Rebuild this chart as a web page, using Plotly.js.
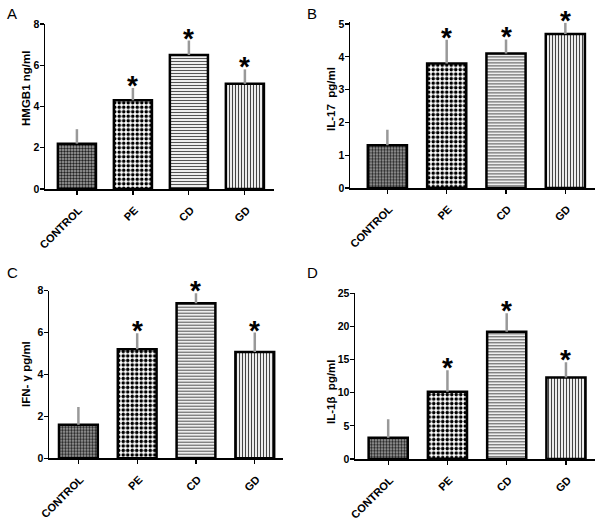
<!DOCTYPE html>
<html>
<head>
<meta charset="utf-8">
<script src="https://cdn.plot.ly/plotly-3.0.1.min.js"></script>
<style>html,body{margin:0;padding:0;background:#fff;}#chart{width:600px;height:523px;}</style>
</head>
<body>
<div id="chart"></div>
<script>
// ---- data ----
var categories = ['CONTROL', 'PE', 'CD', 'GD'];
var hmgb1 = [2.2, 4.3, 6.5, 5.1];
var hmgb1Err = [0.7, 0.6, 0.7, 0.7];
var il17 = [1.3, 3.8, 4.1, 4.7];
var il17Err = [0.48, 0.72, 0.43, 0.34];
var ifng = [1.6, 5.2, 7.4, 5.07];
var ifngErr = [0.85, 0.77, 0.48, 0.93];
var il1b = [3.2, 10.15, 19.2, 12.3];
var il1bErr = [2.8, 3.25, 2.8, 2.3];
var starText = ['', '*', '*', '*'];
var panelTitles = ['HMGB1 ng/ml', 'IL-17  pg/ml', 'IFN- γ pg/ml', 'IL-1β  pg/ml'];
var panelLetters = ['A', 'B', 'C', 'D'];
var yRanges = [[0, 8], [0, 5.05], [0, 8], [0, 25]];
var yDtick = [2, 1, 2, 5];

// ---- styling ----
var FONT = 'Liberation Sans, Arial, sans-serif';
var pattern = {
  shape: ['.', '.', '-', '|'],
  fgcolor: ['#222', '#000', '#555', '#444'],
  bgcolor: ['#a8a8a8', '#fff', '#fff', '#fff'],
  size: [3, 4.5, 3, 3],
  solidity: [0.5, 0.5, 0.4, 0.4],
  fillmode: 'replace'
};

var panels = [
  {vals: hmgb1, errs: hmgb1Err, dx: [45, 274], dy: [189, 24], xr: [-0.57, 3.52], w: 0.68, tx: 26, ty: 89},
  {vals: il17, errs: il17Err, dx: [350, 595], dy: [188, 22.4], xr: [-0.63, 3.5], w: 0.66, tx: 331, ty: 99},
  {vals: ifng, errs: ifngErr, dx: [49, 283], dy: [458.3, 290.7], xr: [-0.5, 3.48], w: 0.66, tx: 26, ty: 374},
  {vals: il1b, errs: il1bErr, dx: [355, 595], dy: [459, 293.3], xr: [-0.56, 3.49], w: 0.66, tx: 331, ty: 392}
];

var W = 600, H = 523;
var data = [];
var layout = {
  width: W, height: H,
  margin: {l: 0, r: 0, t: 0, b: 0},
  paper_bgcolor: '#fff', plot_bgcolor: 'rgba(0,0,0,0)',
  showlegend: false,
  font: {family: FONT, color: '#000'},
  annotations: []
};

panels.forEach(function (p, i) {
  var n = i + 1;
  var xa = 'x' + (n === 1 ? '' : n), ya = 'y' + (n === 1 ? '' : n);
  var xkey = 'xaxis' + (n === 1 ? '' : n), ykey = 'yaxis' + (n === 1 ? '' : n);
  data.push({
    type: 'bar', x: categories, y: p.vals, xaxis: xa, yaxis: ya, width: p.w,
    marker: {color: '#fff', line: {color: '#000', width: 2.5}, pattern: pattern},
    error_y: {type: 'data', array: p.errs, arrayminus: [0, 0, 0, 0], symmetric: false,
              color: '#999', thickness: 2.5, width: 0},
    hoverinfo: 'skip'
  });
  // significance stars, placed on top of the error bars through the axes
  categories.forEach(function (c, k) {
    if (!starText[k]) return;
    layout.annotations.push({
      text: starText[k], xref: xa, yref: ya, x: c, y: p.vals[k] + p.errs[k],
      xanchor: 'center', yanchor: 'bottom', yshift: -15, showarrow: false,
      font: {family: FONT, size: 28, weight: 'bold', color: '#000'}
    });
  });
  layout[xkey] = {
    domain: [p.dx[0] / W, p.dx[1] / W], anchor: ya, range: p.xr, type: 'category',
    showline: true, linecolor: '#000', linewidth: 1.5, ticks: 'outside', ticklen: 4,
    tickwidth: 1.2, tickcolor: '#000', tickangle: -45, showgrid: false, zeroline: false,
    ticklabelstandoff: 5, ticklabelshift: 2,
    tickfont: {family: FONT, size: 11, weight: 'bold', color: '#000'}
  };
  layout[ykey] = {
    domain: [1 - p.dy[0] / H, 1 - p.dy[1] / H], anchor: xa, range: yRanges[i], dtick: yDtick[i],
    showline: true, linecolor: '#000', linewidth: 1.5, ticks: 'outside', ticklen: 4,
    tickwidth: 1.2, tickcolor: '#000', showgrid: false, zeroline: false,
    ticklabelstandoff: -2,
    tickfont: {family: FONT, size: 10.5, weight: 'bold', color: '#000'}
  };
  // y-axis titles
  layout.annotations.push({
    text: panelTitles[i], xref: 'paper', yref: 'paper',
    x: p.tx / W, y: 1 - p.ty / H, xanchor: 'center', yanchor: 'middle',
    textangle: -90, showarrow: false,
    font: {family: FONT, size: 11.5, weight: 'bold', color: '#000'}
  });
  layout.annotations.push({
    text: panelLetters[i], xref: 'paper', yref: 'paper',
    x: (i % 2 === 0 ? 5 : 305) / W, y: 1 - (i < 2 ? 3 : 262) / H,
    xanchor: 'left', yanchor: 'top', showarrow: false,
    font: {family: FONT, size: 15, color: '#000'}
  });
});

Plotly.newPlot('chart', data, layout, {displayModeBar: false, staticPlot: true});
</script>
</body>
</html>
